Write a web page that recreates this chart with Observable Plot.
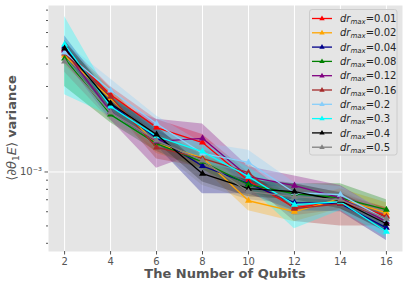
<!DOCTYPE html>
<html>
<head>
<meta charset="utf-8">
<script src="https://cdn.jsdelivr.net/npm/d3@7"></script>
<script src="https://cdn.jsdelivr.net/npm/@observablehq/plot@0.6"></script>
<style>
  html, body { margin: 0; padding: 0; background: #ffffff; }
  #chart { width: 407px; height: 285px; position: relative; }
  svg { font-family: "DejaVu Sans", sans-serif; }
</style>
</head>
<body>
<div id="chart"></div>
<script>
// ---- data ----
const qubits = [2, 4, 6, 8, 10, 12, 14, 16];
const drLabels = ["0.01", "0.02", "0.04", "0.08", "0.12", "0.16", "0.2", "0.3", "0.4", "0.5"];
const colors = ["#ff0000", "#ffa500", "#00008b", "#008000", "#800080", "#a52a2a", "#87cefa", "#00ffff", "#000000", "#808080"];

const means = [
  [4.82e-3, 2.70e-3, 1.77e-3, 1.46e-3, 0.894e-3, 0.632e-3, 0.682e-3, 0.570e-3],
  [4.47e-3, 2.57e-3, 1.44e-3, 1.20e-3, 0.691e-3, 0.600e-3, 0.709e-3, 0.592e-3],
  [5.01e-3, 2.38e-3, 1.55e-3, 1.08e-3, 0.860e-3, 0.674e-3, 0.665e-3, 0.488e-3],
  [4.30e-3, 2.09e-3, 1.44e-3, 1.14e-3, 0.849e-3, 0.756e-3, 0.718e-3, 0.616e-3],
  [4.76e-3, 2.17e-3, 1.48e-3, 1.54e-3, 0.942e-3, 0.839e-3, 0.718e-3, 0.528e-3],
  [4.58e-3, 2.63e-3, 1.37e-3, 1.19e-3, 0.991e-3, 0.624e-3, 0.665e-3, 0.563e-3],
  [4.64e-3, 2.85e-3, 1.86e-3, 1.27e-3, 1.13e-3, 0.766e-3, 0.747e-3, 0.542e-3],
  [5.14e-3, 2.32e-3, 1.58e-3, 1.30e-3, 0.942e-3, 0.657e-3, 0.682e-3, 0.464e-3],
  [4.89e-3, 2.41e-3, 1.62e-3, 0.978e-3, 0.807e-3, 0.776e-3, 0.691e-3, 0.514e-3],
  [4.13e-3, 2.15e-3, 1.50e-3, 1.16e-3, 0.776e-3, 0.728e-3, 0.700e-3, 0.548e-3]
];
const highs = [
  [5.35e-3, 2.99e-3, 1.96e-3, 1.62e-3, 0.991e-3, 0.701e-3, 0.756e-3, 0.632e-3],
  [5.08e-3, 2.92e-3, 1.64e-3, 1.36e-3, 0.786e-3, 0.682e-3, 0.806e-3, 0.673e-3],
  [5.76e-3, 2.64e-3, 1.72e-3, 1.23e-3, 0.954e-3, 0.747e-3, 0.737e-3, 0.541e-3],
  [4.90e-3, 2.32e-3, 1.60e-3, 1.26e-3, 0.940e-3, 0.860e-3, 0.860e-3, 0.700e-3],
  [5.30e-3, 2.45e-3, 1.97e-3, 1.85e-3, 1.07e-3, 0.950e-3, 0.840e-3, 0.590e-3],
  [5.10e-3, 2.95e-3, 1.55e-3, 1.33e-3, 1.11e-3, 0.700e-3, 0.740e-3, 0.630e-3],
  [5.30e-3, 3.30e-3, 2.05e-3, 1.45e-3, 1.32e-3, 0.870e-3, 0.830e-3, 0.600e-3],
  [7.37e-3, 2.65e-3, 1.78e-3, 1.45e-3, 1.06e-3, 0.740e-3, 0.760e-3, 0.510e-3],
  [5.42e-3, 2.67e-3, 1.80e-3, 1.08e-3, 0.895e-3, 0.860e-3, 0.766e-3, 0.570e-3],
  [4.60e-3, 2.40e-3, 1.66e-3, 1.29e-3, 0.860e-3, 0.810e-3, 0.780e-3, 0.610e-3]
];
const lows = [
  [4.35e-3, 2.43e-3, 1.60e-3, 1.32e-3, 0.806e-3, 0.570e-3, 0.615e-3, 0.514e-3],
  [3.93e-3, 2.26e-3, 1.27e-3, 1.06e-3, 0.608e-3, 0.528e-3, 0.624e-3, 0.521e-3],
  [4.41e-3, 2.15e-3, 1.40e-3, 0.755e-3, 0.756e-3, 0.608e-3, 0.600e-3, 0.414e-3],
  [3.00e-3, 1.88e-3, 1.30e-3, 1.03e-3, 0.770e-3, 0.680e-3, 0.650e-3, 0.560e-3],
  [4.20e-3, 1.95e-3, 1.05e-3, 1.30e-3, 0.830e-3, 0.740e-3, 0.640e-3, 0.470e-3],
  [4.10e-3, 2.35e-3, 1.18e-3, 1.06e-3, 0.880e-3, 0.530e-3, 0.500e-3, 0.500e-3],
  [4.10e-3, 2.50e-3, 1.65e-3, 1.12e-3, 0.990e-3, 0.680e-3, 0.670e-3, 0.490e-3],
  [2.70e-3, 2.05e-3, 1.40e-3, 1.15e-3, 0.830e-3, 0.482e-3, 0.610e-3, 0.430e-3],
  [4.41e-3, 2.17e-3, 1.46e-3, 0.880e-3, 0.728e-3, 0.700e-3, 0.623e-3, 0.463e-3],
  [3.60e-3, 1.93e-3, 1.35e-3, 0.840e-3, 0.700e-3, 0.660e-3, 0.630e-3, 0.490e-3]
];
const yMajorTicks = [1e-3];
const yMinorTicks = [4e-4, 5e-4, 6e-4, 7e-4, 8e-4, 9e-4, 2e-3, 3e-3, 4e-3, 5e-3, 6e-3, 7e-3, 8e-3];

// ---- build table ----
const seriesRows = drLabels.map((lab, s) =>
  qubits.map((q, i) => ({ q, v: means[s][i], lo: lows[s][i], hi: highs[s][i], s }))
);

const marks = [
  Plot.frame({ fill: "#e5e5e5", stroke: null }),
  Plot.gridX(qubits, { stroke: "#ffffff", strokeOpacity: 1, strokeWidth: 1 }),
  Plot.gridY(yMajorTicks, { stroke: "#ffffff", strokeOpacity: 1, strokeWidth: 1 }),
  Plot.axisX(qubits, { tickSize: 3.5, tickPadding: 3, fontSize: 10, stroke: "#555", fill: "#555", label: null, tickFormat: d => String(d) }),
  Plot.axisY(yMajorTicks, { tickSize: 3.5, tickPadding: 3, fontSize: 10, stroke: "#555", fill: "#555", label: null, tickFormat: () => "10⁻³" }),
  Plot.axisY(yMinorTicks, { tickSize: 2, stroke: "#555", label: null, tickFormat: () => "" })
];
seriesRows.forEach((rows, s) => {
  marks.push(Plot.areaY(rows, { x: "q", y1: "lo", y2: "hi", fill: colors[s], fillOpacity: 0.3, curve: "linear" }));
});
seriesRows.forEach((rows, s) => {
  marks.push(Plot.line(rows, { x: "q", y: "v", stroke: colors[s], strokeWidth: 1.3 }));
  marks.push(Plot.dot(rows, { x: "q", y: "v", symbol: "triangle", r: 2.6, fill: colors[s], stroke: null }));
});

const chart = Plot.plot({
  width: 407,
  height: 285,
  marginLeft: 48,
  marginRight: 5,
  marginTop: 5,
  marginBottom: 34,
  style: { background: "transparent", fontFamily: "DejaVu Sans, sans-serif", overflow: "visible" },
  x: { domain: [1.3, 16.7], axis: null },
  y: { type: "log", domain: [3.6e-4, 8.49e-3], axis: null },
  marks
});
document.getElementById("chart").appendChild(chart);

// ---- labels and legend ----
const svg = d3.select(chart);
svg.append("text")
  .attr("x", 225).attr("y", 278)
  .attr("text-anchor", "middle")
  .attr("font-size", 13).attr("font-weight", "bold").attr("fill", "#555")
  .text("The Number of Qubits");

const yl = svg.append("text")
  .attr("transform", "translate(16,128) rotate(-90)")
  .attr("text-anchor", "middle")
  .attr("font-size", 13).attr("fill", "#555");
yl.append("tspan").text("⟨∂");
yl.append("tspan").attr("font-style", "italic").text("θ");
yl.append("tspan").attr("font-size", 9).attr("dy", 3).text("1");
yl.append("tspan").attr("font-style", "italic").attr("dy", -3).text("E");
yl.append("tspan").text("⟩ ");
yl.append("tspan").attr("font-weight", "bold").text("variance");

const lg = svg.append("g").attr("text-anchor", "start");
lg.append("rect")
  .attr("x", 309.5).attr("y", 9.5).attr("width", 87.5).attr("height", 145.5).attr("rx", 2.5)
  .attr("fill", "#e5e5e5").attr("fill-opacity", 0.8).attr("stroke", "#cccccc").attr("stroke-width", 1);
drLabels.forEach((lab, i) => {
  const y = 18.5 + i * 14.3;
  lg.append("line").attr("x1", 312).attr("x2", 332).attr("y1", y).attr("y2", y)
    .attr("stroke", colors[i]).attr("stroke-width", 1.3);
  lg.append("path").attr("d", `M${322},${y - 3}L${324.7},${y + 1.7}L${319.3},${y + 1.7}Z`).attr("fill", colors[i]);
  const t = lg.append("text").attr("x", 340).attr("y", y + 3.6).attr("font-size", 10)
    .attr("fill", "#262626").attr("text-anchor", "start");
  t.append("tspan").attr("font-style", "italic").text("dr");
  t.append("tspan").attr("font-style", "italic").attr("font-size", 7).attr("dy", 2).text("max");
  t.append("tspan").attr("dy", -2).text("=" + lab);
});
</script>
</body>
</html>
